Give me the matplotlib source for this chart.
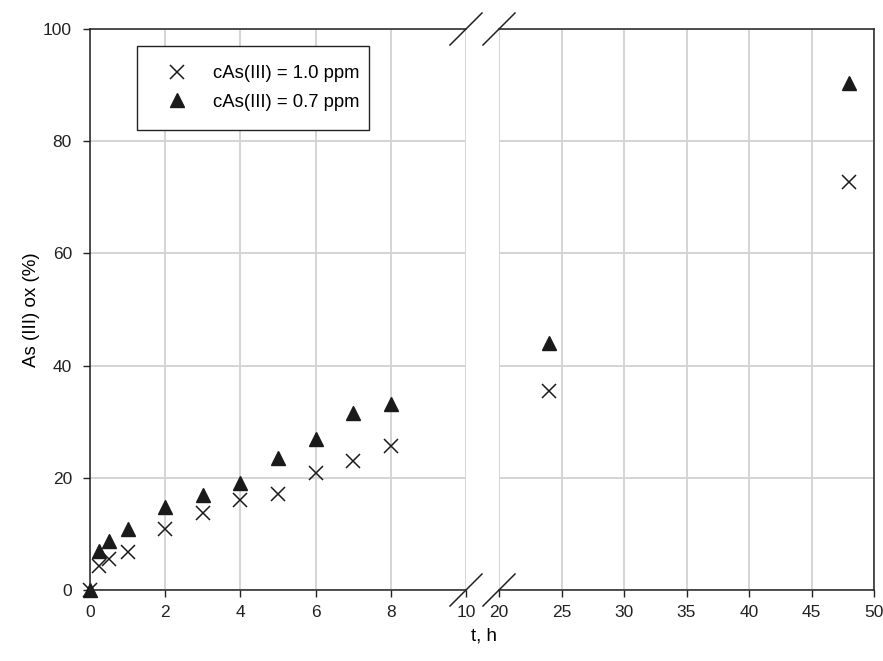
import numpy as np
import matplotlib.pyplot as plt
from matplotlib.patches import Rectangle

plt.rcParams['font.family'] = ['Liberation Sans', 'DejaVu Sans']
plt.rcParams['font.size'] = 12.5

# time, h
t = np.array([0, 0.25, 0.5, 1, 2, 3, 4, 5, 6, 7, 8, 24, 48])
# As(III) oxidised, %
ox_10 = np.array([0, 4.2, 5.6, 6.8, 10.9, 13.7, 16.1, 17.2, 20.9, 23.0, 25.7, 35.5, 72.7])
ox_07 = np.array([0, 7.0, 8.7, 10.8, 14.8, 17.0, 19.1, 23.6, 26.9, 31.5, 33.1, 44.1, 90.3])

label_10 = "cAs(III) = 1.0 ppm"
label_07 = "cAs(III) = 0.7 ppm"

fig = plt.figure(figsize=(8.83, 6.61), dpi=100)
ax1 = fig.add_axes([90 / 883, 1 - 590 / 661, 376 / 883, 561 / 661])
ax2 = fig.add_axes([499 / 883, 1 - 590 / 661, 375 / 883, 561 / 661])

ink = '#1a1a1a'
for ax, lo, hi in ((ax1, 0, 10), (ax2, 20, 50)):
    m = (t >= lo) & (t <= hi)
    ax.plot(t[m], ox_10[m], linestyle='none', marker='x', markersize=9.5,
            markeredgewidth=1.1, color=ink, label=label_10, clip_on=False)
    ax.plot(t[m], ox_07[m], linestyle='none', marker='^', markersize=10,
            color=ink, label=label_07, clip_on=False)
    ax.set_xlim(lo, hi)
    ax.set_ylim(0, 100)
    ax.grid(True, color='#d4d4d4', linewidth=1.4)
    ax.set_axisbelow(True)
    ax.tick_params(direction='out', length=5, width=1, colors='#222222',
                   labelcolor='#222222', pad=6)
    for s in ax.spines.values():
        s.set_color('#222222')
        s.set_linewidth(1.1)

ax1.set_xticks(range(0, 11, 2))
ax1.set_yticks(range(0, 101, 20))
ax1.tick_params(axis='y', pad=8)
ax1.spines['right'].set_visible(False)

ax2.set_xticks(range(20, 51, 5))
ax2.set_yticks(range(0, 101, 20))
ax2.tick_params(axis='y', left=False, labelleft=False)
ax2.spines['left'].set_visible(False)

# break marks
d = 16 / 883
dy = 16 / 661
for xb in (466 / 883, 499 / 883):
    for yb in (1 - 590 / 661, 1 - 29 / 661):
        fig.add_artist(plt.Line2D([xb - d, xb + d], [yb - dy, yb + dy],
                                  color='#222222', linewidth=1.1, zorder=10))

ax1.set_ylabel("As (III) ox (%)", fontsize=13.5, labelpad=2)
fig.text(484 / 883, 1 - 636 / 661, "t, h", ha='center', va='center', fontsize=13.5)

# legend without frame; frame drawn afterwards with more room above/below
leg = ax1.legend(loc='upper left', bbox_to_anchor=(0.125, 0.953),
                 frameon=False, fontsize=13.3, borderpad=0.54,
                 handletextpad=0.32, labelspacing=0.62, borderaxespad=0,
                 handlelength=3.24)
leg.set_zorder(6)
fig.canvas.draw()
ext = leg.get_window_extent().transformed(fig.transFigure.inverted())
extra = 9.25 / 661
ax1.add_patch(Rectangle((ext.x0, ext.y0 - extra), ext.width, ext.height + 2 * extra,
                        transform=fig.transFigure, facecolor='white',
                        edgecolor='#222222', linewidth=1.0, zorder=4,
                        clip_on=False))

fig.savefig("out.png", dpi=100)
